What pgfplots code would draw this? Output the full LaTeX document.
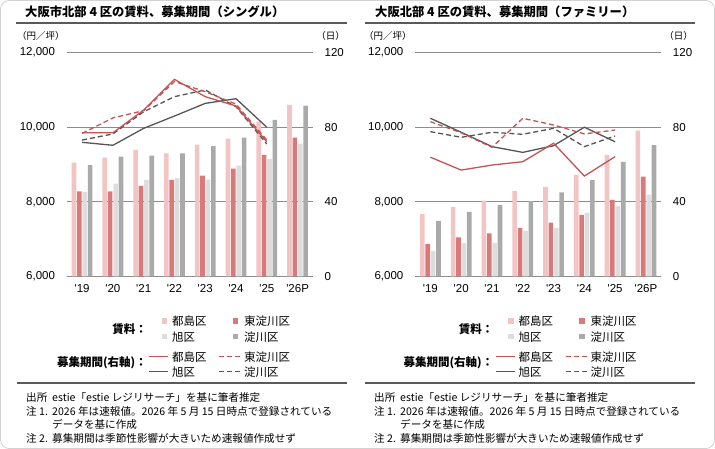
\documentclass[border=0pt]{standalone}
\usepackage{fontspec}
\setmainfont{Liberation Sans}
\newfontfamily\jp{Noto Sans CJK JP}
\usepackage{pgfplots}
\usepackage{pgfplotstable}
\pgfplotsset{compat=1.18}

% colours
\definecolor{cToBar}{RGB}{242,196,196}
\definecolor{cHiBar}{RGB}{216,122,122}
\definecolor{cAsBar}{RGB}{221,221,221}
\definecolor{cYoBar}{RGB}{170,170,170}
\definecolor{cRed}{RGB}{196,84,84}
\definecolor{cDark}{RGB}{85,85,85}
\definecolor{cGrid}{RGB}{140,140,140}
\definecolor{cBase}{RGB}{110,110,110}
\definecolor{cRule}{RGB}{90,90,90}

\newcommand\ftitle{\jp\bfseries\fontsize{12.3}{14}\selectfont}
\newcommand\funit{\jp\fontsize{9.5}{11}\selectfont}
\newcommand\flegend{\jp\fontsize{11.5}{13}\selectfont}
\newcommand\flegendb{\jp\bfseries\fontsize{11.5}{13}\selectfont}
\newcommand\fnote{\jp\fontsize{10.6}{12}\selectfont}
\newcommand\ftick{\fontsize{11.5}{13}\selectfont}

% rent (yen per tsubo): Miyakojima, Higashiyodogawa, Asahi, Yodogawa
\pgfplotstableread{
yr   To     Hi    As    Yo
2019 9050   8280  8265  8980
2020 9185   8280  8490  9210
2021 9390   8425  8585  9240
2022 9300   8585  8640  9300
2023 9530   8700  8595  9490
2024 9695   8890  8970  9720
2025 10150  9257  9150  10200
2026 10600  9720  9550  10580
}\rentSingle

\pgfplotstableread{
yr   To     Hi    As    Yo
2019 7665   6860  6680  7485
2020 7860   7047  6900  7726
2021 8030   7155  6900  7915
2022 8290   7297  7216  8020
2023 8400   7440  7297  8255
2024 8720   7646  7708  8586
2025 9257   8050  7888  9070
2026 9910   8675  8190  9520
}\rentFamily

% listing period (days)
\pgfplotstableread{
yr   To     Hi     As    Yo
2019 77.0   76.7   71.9  73.1
2020 77.0   85.0   70.3  76.4
2021 89.2   88.9   79.4  88.3
2022 105.7  104.5  86.0  96.4
2023 96.4   99.1   92.8  100.0
2024 91.4   92.4   95.3  91.0
2025 72.2   73.1   80.0  71.0
}\daysSingle

\pgfplotstableread{
yr   To     Hi     As    Yo
2019 63.9   83.0   84.8  77.6
2020 57.0   77.0   77.3  74.6
2021 59.7   69.2   69.6  77.3
2022 61.5   84.8   66.5  76.2
2023 71.4   81.2   70.1  79.4
2024 53.8   76.4   80.0  69.6
2025 64.2   78.5   72.2  75.3
}\daysFamily

\pgfplotsset{
  panelbox/.style={
    scale only axis, width=246.3pt, height=223.6pt,
    anchor=south west, xmin=-0.5, xmax=7.5,
    axis line style={draw=none},
    tick style={draw=none}, major tick length=0pt,
    scaled y ticks=false,
    /pgf/number format/1000 sep={,},
    /pgf/number format/assume math mode=true,
  },
  rentaxis/.style={
    panelbox,
    ymin=6000, ymax=12000,
    xtick={0,...,7},
    xticklabels={\textquotesingle19,\textquotesingle20,\textquotesingle21,\textquotesingle22,\textquotesingle23,\textquotesingle24,\textquotesingle25,\textquotesingle26P},
    xticklabel style={font=\ftick, inner sep=0pt, yshift=-8pt},
    ytick={8000,10000,12000},
    extra y ticks={6000},
    extra y tick style={grid style={color=cBase, line width=1.2pt}},
    ymajorgrids,
    major grid style={color=cGrid, line width=0.8pt},
    yticklabel style={font=\ftick, inner sep=0pt, xshift=-11.5pt},
  },
  daysaxis/.style={
    panelbox,
    ymin=0, ymax=120,
    hide x axis,
    ytick={0,40,80,120},
    yticklabel pos=right,
    yticklabel style={font=\ftick, inner sep=0pt, xshift=11.5pt},
  },
  rentbar/.style={ybar, bar width=0.15, bar shift=0pt, draw=none},
  dayline/.style={no marks, line width=1.3pt},
  dashline/.style={dayline, dash pattern=on 5pt off 3pt},
}

% legend and notes shared by both panels
\newcommand\legendblock{%
  \node[anchor=east, inner sep=0] at (147pt,120pt) {\flegendb 賃料：};
  \fill[cToBar] (161.7pt,125.2pt) rectangle ++(5.7pt,5.7pt);
  \fill[cHiBar] (232.7pt,125.2pt) rectangle ++(5.7pt,5.7pt);
  \fill[cAsBar] (161.7pt,109.5pt) rectangle ++(5.7pt,5.7pt);
  \fill[cYoBar] (232.7pt,109.5pt) rectangle ++(5.7pt,5.7pt);
  \node[anchor=west, inner sep=0] at (172pt,128pt) {\flegend 都島区};
  \node[anchor=west, inner sep=0] at (244pt,128pt) {\flegend 東淀川区};
  \node[anchor=west, inner sep=0] at (172pt,112.3pt) {\flegend 旭区};
  \node[anchor=west, inner sep=0] at (244pt,112.3pt) {\flegend 淀川区};
  \node[anchor=east, inner sep=0] at (147pt,86pt) {\flegendb 募集期間(右軸)：};
  \draw[cRed, line width=1.4pt] (149pt,92.3pt) -- (168pt,92.3pt);
  \draw[cRed, line width=1.4pt, dash pattern=on 5pt off 3pt] (219pt,92.3pt) -- (241pt,92.3pt);
  \draw[cDark, line width=1.4pt] (149pt,77.3pt) -- (168pt,77.3pt);
  \draw[cDark, line width=1.4pt, dash pattern=on 5pt off 3pt] (219pt,77.3pt) -- (241pt,77.3pt);
  \node[anchor=west, inner sep=0] at (172pt,92.3pt) {\flegend 都島区};
  \node[anchor=west, inner sep=0] at (244pt,92.3pt) {\flegend 東淀川区};
  \node[anchor=west, inner sep=0] at (172pt,77.3pt) {\flegend 旭区};
  \node[anchor=west, inner sep=0] at (244pt,77.3pt) {\flegend 淀川区};
}
\newcommand\noteblock{%
  \draw[cRule, line width=2pt] (17pt,66pt) -- (347pt,66pt);
  \node[anchor=west, inner sep=0] at (26pt,52pt) {\fnote 出所\ \ estie「estie レジリサーチ」を基に筆者推定};
  \node[anchor=west, inner sep=0] at (26pt,38pt) {\fnote 注 1.};
  \node[anchor=west, inner sep=0] at (52pt,38pt) {\fnote 2026 年は速報値。2026 年 5 月 15 日時点で登録されている};
  \node[anchor=west, inner sep=0] at (52pt,25pt) {\fnote データを基に作成};
  \node[anchor=west, inner sep=0] at (26pt,11pt) {\fnote 注 2.};
  \node[anchor=west, inner sep=0] at (52pt,11pt) {\fnote 募集期間は季節性影響が大きいため速報値作成せず};
}

\begin{document}
\begin{tikzpicture}
\useasboundingbox (0,0) rectangle (715pt,449pt);
\draw[gray!35, line width=0.8pt, rounded corners=9pt] (0.4pt,0.4pt) rectangle (714.6pt,448.6pt);

% ---------- single-type panel ----------
\node[anchor=west, inner sep=0] at (25pt,437.3pt) {\ftitle 大阪市北部 4 区の賃料、募集期間（シングル）};
\draw[cRule, line width=2pt] (16pt,426.3pt) -- (347pt,426.3pt);
\node[anchor=west, inner sep=0] at (17pt,413.3pt) {\funit （円／坪）};
\node[anchor=east, inner sep=0] at (345pt,413.3pt) {\funit （日）};

\begin{axis}[rentaxis, at={(66.7pt,172.7pt)}]
  \addplot[rentbar, fill=cToBar] table[x expr=\coordindex-0.2625, y=To] {\rentSingle};
  \addplot[rentbar, fill=cHiBar] table[x expr=\coordindex-0.0875, y=Hi] {\rentSingle};
  \addplot[rentbar, fill=cAsBar] table[x expr=\coordindex+0.0875, y=As] {\rentSingle};
  \addplot[rentbar, fill=cYoBar] table[x expr=\coordindex+0.2625, y=Yo] {\rentSingle};
\end{axis}
\begin{axis}[daysaxis, at={(66.7pt,172.7pt)}]
  \addplot[dayline, cDark] table[x expr=\coordindex, y=As] {\daysSingle};
  \addplot[dashline, cDark] table[x expr=\coordindex, y=Yo] {\daysSingle};
  \addplot[dashline, cRed] table[x expr=\coordindex, y=Hi] {\daysSingle};
  \addplot[dayline, cRed] table[x expr=\coordindex, y=To] {\daysSingle};
\end{axis}

\legendblock
\noteblock

% ---------- family-type panel ----------
\node[anchor=west, inner sep=0] at (375pt,437.3pt) {\ftitle 大阪北部 4 区の賃料、募集期間（ファミリー）};
\draw[cRule, line width=2pt] (365pt,426.3pt) -- (695pt,426.3pt);
\node[anchor=west, inner sep=0] at (364pt,413.3pt) {\funit （円／坪）};
\node[anchor=east, inner sep=0] at (693pt,413.3pt) {\funit （日）};

\begin{axis}[rentaxis, at={(415pt,172.7pt)}]
  \addplot[rentbar, fill=cToBar] table[x expr=\coordindex-0.2625, y=To] {\rentFamily};
  \addplot[rentbar, fill=cHiBar] table[x expr=\coordindex-0.0875, y=Hi] {\rentFamily};
  \addplot[rentbar, fill=cAsBar] table[x expr=\coordindex+0.0875, y=As] {\rentFamily};
  \addplot[rentbar, fill=cYoBar] table[x expr=\coordindex+0.2625, y=Yo] {\rentFamily};
\end{axis}
\begin{axis}[daysaxis, at={(415pt,172.7pt)}]
  \addplot[dayline, cDark] table[x expr=\coordindex, y=As] {\daysFamily};
  \addplot[dashline, cDark] table[x expr=\coordindex, y=Yo] {\daysFamily};
  \addplot[dashline, cRed] table[x expr=\coordindex, y=Hi] {\daysFamily};
  \addplot[dayline, cRed] table[x expr=\coordindex, y=To] {\daysFamily};
\end{axis}

\begin{scope}[xshift=346.5pt]
  \legendblock
\end{scope}
\begin{scope}[xshift=348pt]
  \noteblock
\end{scope}
\end{tikzpicture}
\end{document}
